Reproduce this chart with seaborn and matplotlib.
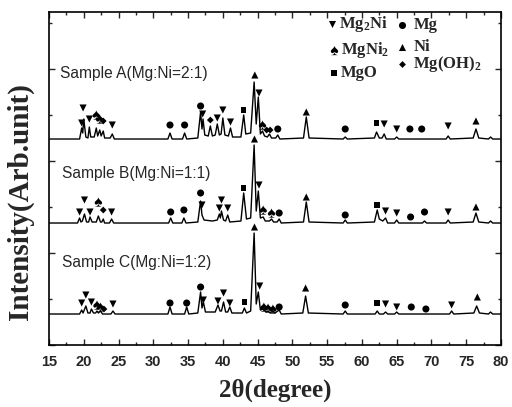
import matplotlib
matplotlib.use('Agg')
import matplotlib.pyplot as plt
import seaborn as sns
import pandas as pd
from matplotlib.ticker import MultipleLocator

# XRD traces: (2theta, intensity above own baseline)
a_theta = [15.0, 19.4, 19.7, 19.85, 20.0, 20.3, 20.6, 20.8, 21.0, 21.5, 21.8, 22.0, 22.3, 22.5, 22.8, 23.0,
           23.8, 24.1, 24.4, 32.1, 32.4, 32.7, 34.2, 34.5, 34.8, 36.4, 36.8, 37.0, 37.15, 37.4, 37.9, 38.2,
           38.5, 38.9, 39.2, 39.5, 39.75, 40.0, 40.3, 40.8, 41.1, 41.4, 42.6, 43.0, 43.3, 44.0, 44.5, 44.8,
           45.1, 45.4, 45.7, 46.0, 46.4, 46.7, 47.0, 47.6, 47.9, 48.2, 51.6, 52.0, 52.4, 57.3, 57.6, 57.9,
           61.8, 62.1, 62.5, 62.9, 63.2, 63.5, 64.7, 65.0, 65.3, 72.1, 72.4, 72.7, 76.0, 76.4, 76.8, 78.2,
           78.5, 78.8, 80.0]
a_int = [0, 0, 11, 6, 20, 2, 1, 12, 2, 2, 11, 3, 9, 3, 8, 1,
         1, 5, 0, 0, 6, 0, 0, 6, 0, 1, 27, 10, 20, 4, 3, 13,
         3, 4, 15, 4, 5, 21, 4, 3, 11, 2, 2, 24, 5, 6, 57, 15,
         42, 5, 8, 3, 2, 5, 1, 1, 4, 0, 1, 22, 1, 0, 2, 0,
         1, 7, 1, 1, 5, 0, 0, 2, 0, 0, 3, 0, 1, 10, 1, 0,
         2, 0, 0]

b_theta = [15.0, 19.1, 19.4, 19.6, 19.8, 20.1, 20.4, 20.7, 20.9, 21.2, 21.8, 22.1, 22.4, 22.6, 22.8, 23.0,
           23.7, 24.0, 24.3, 32.2, 32.5, 32.8, 34.1, 34.4, 34.7, 36.4, 36.8, 37.0, 37.3, 38.5, 39.2, 39.5,
           39.65, 39.8, 40.1, 40.4, 40.7, 41.0, 42.6, 43.0, 43.4, 44.0, 44.5, 44.8, 45.1, 45.4, 45.8, 46.1,
           46.7, 47.0, 47.3, 47.8, 48.1, 48.4, 51.6, 52.0, 52.4, 57.3, 57.6, 57.9, 61.8, 62.2, 62.5, 63.0,
           63.4, 63.7, 64.7, 65.0, 65.3, 68.7, 69.0, 69.3, 72.1, 72.4, 72.7, 76.0, 76.4, 76.8, 78.2, 78.5,
           78.8, 80.0]
b_int = [0, 0, 5, 1, 2, 9, 1, 1, 6, 1, 1, 7, 1, 1, 4, 0,
         0, 4, 0, 0, 5, 0, 0, 5, 0, 1, 22, 8, 3, 2, 3, 9,
         5, 12, 3, 2, 8, 1, 2, 30, 4, 5, 78, 12, 32, 5, 6, 2,
         2, 4, 1, 1, 4, 0, 1, 21, 1, 0, 3, 0, 1, 13, 4, 2,
         5, 0, 0, 3, 0, 0, 2, 0, 0, 3, 0, 1, 10, 1, 0, 2,
         0, 0]

c_theta = [15.0, 19.4, 19.7, 19.9, 20.3, 20.6, 20.9, 21.1, 21.4, 21.7, 21.9, 22.1, 22.4, 22.7, 23.9, 24.2,
           24.5, 32.1, 32.4, 32.7, 34.5, 34.8, 35.1, 36.4, 36.8, 37.0, 37.2, 37.5, 38.9, 39.3, 39.6, 39.8,
           40.1, 40.4, 40.7, 41.0, 41.3, 42.8, 43.1, 43.4, 44.0, 44.5, 44.8, 45.1, 45.4, 45.9, 46.2, 46.5,
           46.8, 47.2, 47.5, 48.1, 48.4, 51.5, 51.9, 52.3, 57.3, 57.6, 57.9, 61.9, 62.2, 62.5, 63.1, 63.4,
           63.7, 64.7, 65.0, 65.3, 72.6, 72.9, 73.2, 76.1, 76.5, 76.9, 78.2, 78.5, 78.8, 80.0]
c_int = [0, 0, 4, 1, 8, 1, 1, 5, 1, 1, 3, 1, 3, 0, 0, 3,
         0, 0, 7, 0, 0, 7, 0, 1, 22, 6, 12, 2, 2, 9, 3, 3,
         12, 2, 2, 7, 1, 1, 6, 1, 3, 81, 10, 22, 4, 5, 2, 3,
         1, 3, 1, 4, 0, 1, 18, 1, 0, 3, 0, 0, 3, 0, 0, 2,
         0, 0, 2, 0, 0, 3, 0, 1, 8, 1, 0, 2, 0, 0]

# phase marks: (phase, 2theta, height)
a_marks = [('Mg2Ni', 19.9, 237), ('Mg2Ni', 19.7, 222), ('Mg2Ni', 20.8, 226), ('MgNi2', 21.8, 230),
           ('MgNi2', 22.3, 226), ('Mg(OH)2', 22.8, 224), ('Mg2Ni', 24.1, 220), ('Mg', 32.4, 220),
           ('Mg', 34.5, 220), ('Mg', 36.8, 239), ('Mg2Ni', 37.1, 231), ('Mg(OH)2', 38.2, 225),
           ('Mg2Ni', 39.2, 227), ('Mg2Ni', 40.0, 235), ('Mg2Ni', 41.1, 223), ('MgO', 43.0, 235),
           ('Ni', 44.6, 270), ('Mg2Ni', 45.2, 252), ('MgNi2', 45.7, 220), ('Mg(OH)2', 46.3, 215),
           ('Mg(OH)2', 46.8, 215), ('Mg', 47.9, 216), ('Ni', 52.0, 233), ('Mg', 57.6, 216),
           ('MgO', 62.1, 222), ('Mg2Ni', 63.2, 221), ('Mg2Ni', 65.0, 216), ('Mg', 66.9, 216),
           ('Mg', 68.6, 216), ('Mg2Ni', 72.4, 219), ('Ni', 76.4, 224)]
b_marks = [('Mg2Ni', 19.4, 133), ('Mg2Ni', 20.1, 145), ('Mg2Ni', 20.9, 133), ('MgNi2', 22.1, 143),
           ('Mg(OH)2', 22.8, 135), ('Mg2Ni', 24.0, 133), ('Mg', 32.5, 133), ('Mg', 34.4, 135),
           ('Mg', 36.8, 152), ('Mg2Ni', 37.0, 140), ('Mg2Ni', 39.5, 137), ('Mg2Ni', 39.8, 145),
           ('Mg2Ni', 40.7, 137), ('MgO', 43.0, 157), ('Ni', 44.55, 206), ('Mg2Ni', 45.2, 160),
           ('MgNi2', 45.8, 135), ('MgNi2', 47.0, 132), ('Mg', 48.1, 132), ('Ni', 52.0, 148),
           ('Mg', 57.6, 130), ('MgO', 62.2, 140), ('Mg2Ni', 63.4, 134), ('Mg2Ni', 65.0, 132),
           ('Mg', 67.0, 128), ('Mg', 69.0, 133), ('Mg2Ni', 72.4, 133), ('Ni', 76.4, 138)]
c_marks = [('Mg2Ni', 19.7, 42), ('Mg2Ni', 20.3, 50), ('Mg2Ni', 21.1, 43), ('MgNi2', 21.9, 40),
           ('MgNi2', 22.4, 38), ('Mg(OH)2', 22.9, 36), ('Mg2Ni', 24.2, 41), ('Mg', 32.4, 42),
           ('Mg', 34.8, 42), ('Mg', 36.8, 58), ('Mg2Ni', 37.2, 45), ('Mg2Ni', 39.3, 44),
           ('Mg2Ni', 40.1, 52), ('Mg2Ni', 41.0, 42), ('MgO', 43.1, 43), ('Ni', 44.55, 118),
           ('Mg2Ni', 45.3, 59), ('MgNi2', 45.9, 38), ('MgNi2', 46.5, 37), ('MgNi2', 47.2, 36),
           ('Mg', 48.1, 38), ('Ni', 51.9, 57), ('Mg', 57.6, 40), ('MgO', 62.2, 42),
           ('Mg2Ni', 63.4, 41), ('Mg2Ni', 65.0, 38), ('Mg', 67.1, 38), ('Mg', 69.2, 36),
           ('Mg2Ni', 72.9, 40), ('Ni', 76.6, 48)]

sample_labels = ['Sample A(Mg:Ni=2:1)', 'Sample B(Mg:Ni=1:1)', 'Sample C(Mg:Ni=1:2)']
phase_labels = {'Mg2Ni': 'Mg$_2$Ni', 'MgNi2': 'MgNi$_2$', 'MgO': 'MgO',
                'Mg': 'Mg', 'Ni': 'Ni', 'Mg(OH)2': 'Mg(OH)$_2$'}

# style
sns.set_style('ticks')
plt.rcParams['font.family'] = ['Liberation Sans', 'DejaVu Sans']
plt.rcParams['mathtext.default'] = 'regular'

markers = {'Mg2Ni': ('v', 26), 'Mg': ('o', 26), 'MgNi2': (r'$\spadesuit$', 45),
           'Ni': ('^', 26), 'MgO': ('s', 16), 'Mg(OH)2': ('D', 12)}
offsets = [206, 122, 31]

fig = plt.figure(figsize=(5.12, 4.07), dpi=100)
ax = fig.add_axes([0.0957, 0.1523, 0.8828, 0.8182])

traces = [(a_theta, a_int), (b_theta, b_int), (c_theta, c_int)]
for (th, inten), off in zip(traces, offsets):
    sns.lineplot(x=th, y=[v + off for v in inten], sort=False, estimator=None,
                 color='black', lw=1.0, ax=ax)

marks = pd.DataFrame(a_marks + b_marks + c_marks, columns=['phase', 'theta', 'y'])
for ph, grp in marks.groupby('phase'):
    m, s = markers[ph]
    sns.scatterplot(data=grp, x='theta', y='y', marker=m, s=s, color='black',
                    edgecolor='none', linewidth=0, ax=ax, zorder=3)

# sample captions
for lab, (tx, ty) in zip(sample_labels, [(16.6, 272), (16.9, 172), (16.9, 83)]):
    ax.text(tx, ty, lab, fontsize=11.2, va='center', ha='left')

# key of phases, top right
key = [('Mg2Ni', 55.7, 321), ('MgNi2', 56.0, 295), ('MgO', 56.0, 272),
       ('Mg', 65.8, 320), ('Ni', 65.8, 298), ('Mg(OH)2', 65.7, 281)]
for ph, kx, ky in key:
    m, s = markers[ph]
    ax.scatter([kx], [ky], marker=m, s=s, color='black', linewidths=0)
    ax.text(kx + (1.0 if kx < 60 else 1.7), ky, phase_labels[ph], fontsize=12,
            family='Liberation Serif', weight='bold', va='center', ha='left')

ax.set_xlim(15, 80)
ax.set_ylim(0, 333)
ax.xaxis.set_major_locator(MultipleLocator(5))
ax.xaxis.set_minor_locator(MultipleLocator(2.5))
ax.yaxis.set_major_locator(MultipleLocator(92))
ax.yaxis.set_minor_locator(MultipleLocator(46))
ax.tick_params(which='both', direction='in', top=True, right=True, labelleft=False)
ax.tick_params(which='major', length=4, width=1)
ax.tick_params(which='minor', length=2.5, width=1)
ax.tick_params(axis='x', pad=7)
for lab in ax.get_xticklabels():
    lab.set_fontweight('bold')
    lab.set_fontsize(10.5)
for sp in ax.spines.values():
    sp.set_linewidth(1.2)
    sp.set_color('black')

ax.set_ylabel('')
ax.set_xlabel('2θ(degree)', family='Liberation Serif', weight='bold', fontsize=18, labelpad=7)
fig.text(0.039, 0.504, 'Intensity(Arb.unit)', family='Liberation Serif', weight='bold',
         fontsize=21, rotation=90, ha='center', va='center')

fig.savefig('out.png', dpi=100)
